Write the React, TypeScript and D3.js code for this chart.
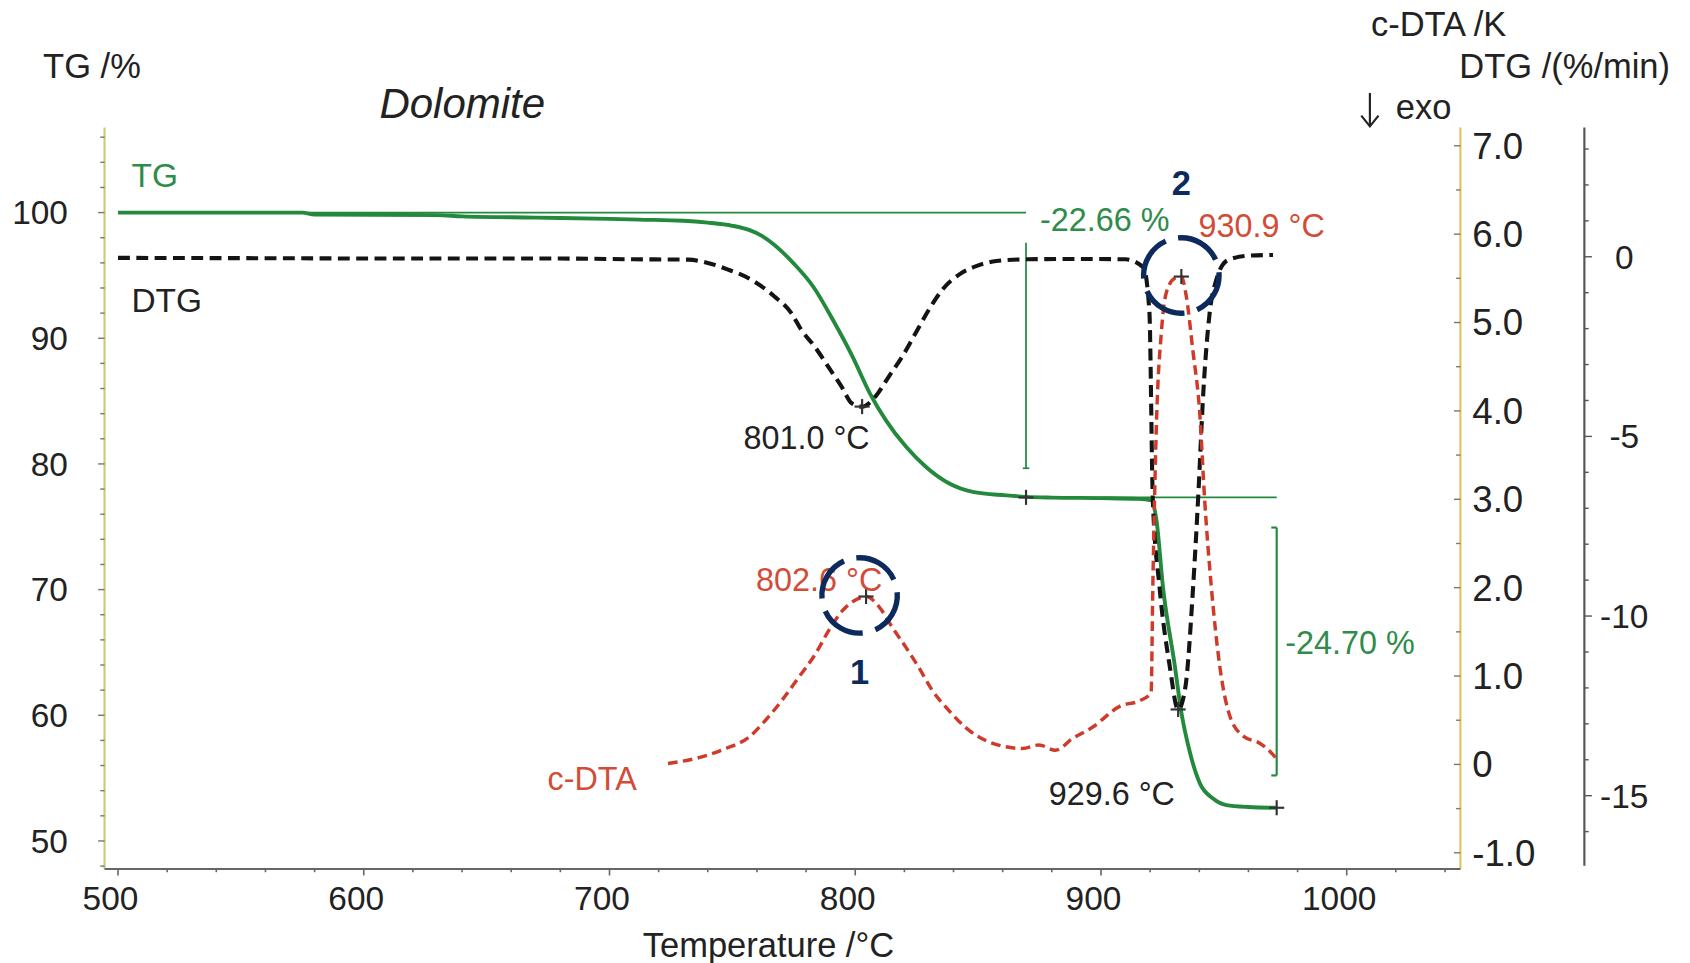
import React from 'react';
import * as d3 from 'd3';

// ---------- data ----------
const tgTemp = [500, 575, 580, 630, 640, 670, 700, 712, 730, 740, 750, 757, 762, 767, 775, 783, 791, 799, 806, 812.5, 820.7, 828.8, 838.3, 847.8, 861.4, 869.5, 880, 900, 915, 920.5, 922.6, 925.2, 930, 932.7, 936.1, 940.2, 945.6, 951, 960, 971.5];
const tgValue = [100, 100, 99.85, 99.8, 99.7, 99.6, 99.5, 99.44, 99.35, 99.2, 98.95, 98.6, 98.15, 97.45, 95.94, 94.08, 91.43, 88.5, 85.6, 83.47, 81.36, 79.76, 78.44, 77.77, 77.5, 77.38, 77.32, 77.28, 77.22, 77.1, 75.5, 70.25, 64.0, 60.24, 57.12, 54.6, 53.37, 52.85, 52.7, 52.64];

const dtgTemp = [500, 560, 620, 680, 710, 732, 740, 748, 757.5, 767, 774, 778, 783.5, 789, 794.5, 798.6, 802.8, 808.2, 813.6, 819.1, 824.6, 830, 835.5, 842.4, 849.2, 857.4, 870, 890, 910, 917.3, 919.7, 921.1, 923.8, 927.9, 931.4, 934.3, 937.5, 939.5, 941.7, 944.3, 946.9, 951.5, 960, 970];
const dtgValue = [-0.03, -0.04, -0.05, -0.05, -0.07, -0.08, -0.17, -0.35, -0.63, -1.1, -1.57, -2.03, -2.5, -3.06, -3.62, -4.08, -4.17, -3.89, -3.34, -2.78, -2.12, -1.47, -0.91, -0.49, -0.26, -0.12, -0.07, -0.06, -0.07, -0.3, -1.52, -6.77, -9.18, -11.36, -12.6, -12.0, -9.18, -6.77, -3.71, -1.52, -0.65, -0.1, 0.03, 0.05];

const dtaTemp = [723.8, 736.8, 747.3, 756.8, 763.5, 770.3, 777.1, 783.8, 789.3, 794.8, 800.1, 804.4, 809.8, 815.1, 820.5, 825.8, 831.3, 838.1, 844.8, 853.1, 861.2, 868, 874.8, 881.5, 888.3, 896.5, 907.8, 915.7, 920.4, 921.1, 922.5, 924.6, 926.6, 930, 932.7, 934.7, 937.4, 940.2, 942.2, 944.9, 948.3, 952.4, 957.9, 964.6, 968.7, 971.8];
const dtaValue = [0.01, 0.08, 0.18, 0.31, 0.5, 0.73, 0.99, 1.25, 1.52, 1.74, 1.86, 1.90, 1.78, 1.55, 1.33, 1.10, 0.84, 0.61, 0.42, 0.27, 0.20, 0.18, 0.22, 0.16, 0.29, 0.42, 0.66, 0.72, 0.81, 2.01, 3.79, 4.90, 5.34, 5.5, 5.52, 5.30, 4.68, 3.97, 2.99, 2.01, 1.12, 0.55, 0.32, 0.24, 0.15, 0.05];

// mass-loss steps
const stepTemps = [869.5, 971.5];
const stepLevels = [100, 77.34, 52.64];
const stepLabels = ['-22.66 %', '-24.70 %'];

// DTG minima / c-DTA peaks (positions as plotted, labels as printed)
const dtgPeakTemps = [802.8, 931.4];
const dtgPeakValues = [-4.17, -12.6];
const dtgPeakLabels = ['801.0 °C', '929.6 °C'];
const dtaPeakTemps = [804.4, 932.7];
const dtaPeakValues = [1.9, 5.52];
const dtaPeakLabels = ['802.6 °C', '930.9 °C'];
const circleNumbers = ['1', '2'];

// ticks
const xTicks = [500, 600, 700, 800, 900, 1000];
const tgTicks = [50, 60, 70, 80, 90, 100];
const dtaTicks = [-1, 0, 1, 2, 3, 4, 5, 6, 7];
const dtgTicks = [0, -5, -10, -15];

const FONT = '"Liberation Sans", Arial, Helvetica, sans-serif';
const GREEN = '#23893c';
const GREEN_TXT = '#2f8c4a';
const RED = '#cf3b2b';
const RED_TXT = '#d24c38';
const NAVY = '#0d2a5c';
const DARK = '#222';

export default function App() {
  const plotTop = 118, plotBottom = 806, plotLeft = 97, plotRight = 1355, dtgAxisX = 1470;
  const x = d3.scaleLinear().domain([500, 1000]).range([109.5, 1249.5]);
  const yTG = d3.scaleLinear().domain([50, 100]).range([780, 197]);
  const yDTA = d3.scaleLinear().domain([-1, 7]).range([791, 135]);
  const yDTG = d3.scaleLinear().domain([-15, 0]).range([738, 238]);

  const tgPath = d3.line().x((d: any) => x(d[0])).y((d: any) => yTG(d[1])).curve(d3.curveMonotoneX)(tgTemp.map((t, i) => [t, tgValue[i]]) as any) as string;
  const dtgPath = d3.line().x((d: any) => x(d[0])).y((d: any) => yDTG(d[1])).curve(d3.curveMonotoneX)(dtgTemp.map((t, i) => [t, dtgValue[i]]) as any) as string;
  const dtaPath = d3.line().x((d: any) => x(d[0])).y((d: any) => yDTA(d[1])).curve(d3.curveMonotoneX)(dtaTemp.map((t, i) => [t, dtaValue[i]]) as any) as string;

  const xMinor = d3.range(500, 1041, 20);
  const tgMinor = d3.range(48, 107, 2);
  const dtaMinor = d3.range(-1, 7.01, 0.5);
  const dtgMinor = d3.range(-16, 4, 1);

  const plus = (cx: number, cy: number, key: string, s = 7) => (
    <g key={key} stroke="#333" strokeWidth={2}>
      <line x1={cx - s} x2={cx + s} y1={cy} y2={cy} />
      <line x1={cx} x2={cx} y1={cy - s} y2={cy + s} />
    </g>
  );

  const r = 35;
  const C = 2 * Math.PI * r;
  const dash = `${(C * 70) / 360} ${(C * 20) / 360}`;

  const s1x = x(stepTemps[0]);
  const s2x = x(stepTemps[1]);

  return (
    <svg
      width={1690}
      height={963}
      viewBox="0 0 1568 893"
      style={{ position: 'absolute', left: 0, top: 0, background: '#fff' }}
      fontFamily={FONT}
    >
      <rect x={0} y={0} width={1568} height={893} fill="#fff" />

      {/* axes lines */}
      <line x1={plotLeft} x2={plotLeft} y1={plotTop} y2={plotBottom} stroke="#d2c873" strokeWidth={2} />
      <line x1={plotRight} x2={plotRight} y1={plotTop} y2={plotBottom} stroke="#e4c262" strokeWidth={2} />
      <line x1={dtgAxisX} x2={dtgAxisX} y1={plotTop} y2={plotBottom - 3} stroke="#555" strokeWidth={2} />
      <line x1={plotLeft} x2={plotRight} y1={plotBottom} y2={plotBottom} stroke="#666" strokeWidth={2} />

      {/* x ticks */}
      {xMinor.map((v) => (
        <line key={'xm' + v} x1={x(v)} x2={x(v)} y1={plotBottom - 1} y2={plotBottom + (v % 100 === 0 ? 6 : 3)} stroke="#666" strokeWidth={1.5} />
      ))}
      {xTicks.map((v) => (
        <text key={'xl' + v} x={x(v) - 7} y={844} textAnchor="middle" fontSize={31} fill={DARK}>{v}</text>
      ))}

      {/* TG ticks */}
      {tgMinor.map((v) => (
        <line key={'tm' + v} x1={plotLeft - (v % 10 === 0 ? 6 : 4)} x2={plotLeft} y1={yTG(v)} y2={yTG(v)} stroke="#777" strokeWidth={1.3} />
      ))}
      {tgTicks.map((v) => (
        <text key={'tl' + v} x={63} y={yTG(v) + 11} textAnchor="end" fontSize={31} fill={DARK}>{v}</text>
      ))}

      {/* DTA ticks */}
      {dtaMinor.map((v) => (
        <line key={'dm' + v} x1={plotRight - (Math.abs(v % 1) < 1e-6 ? 6 : 4)} x2={plotRight} y1={yDTA(v)} y2={yDTA(v)} stroke="#777" strokeWidth={1.3} />
      ))}
      {dtaTicks.map((v) => (
        <text key={'dl' + v} x={1366} y={yDTA(v) + 12} textAnchor="start" fontSize={34} fill={DARK}>{v === 0 ? '0' : v.toFixed(1)}</text>
      ))}

      {/* DTG ticks */}
      {dtgMinor.map((v) => (
        <line key={'gm' + v} x1={dtgAxisX} x2={dtgAxisX + (v % 5 === 0 ? 7 : 4)} y1={yDTG(v)} y2={yDTG(v)} stroke="#555" strokeWidth={1.3} />
      ))}
      {dtgTicks.map((v) => (
        <text key={'gl' + v} x={1507} y={yDTG(v) + 11} textAnchor="middle" fontSize={31} fill={DARK}>{v}</text>
      ))}

      {/* axis titles */}
      <text x={40} y={72} fontSize={32} fill={DARK}>TG /%</text>
      <text x={352} y={109} fontSize={39} fontStyle="italic" fill={DARK}>Dolomite</text>
      <text x={713} y={888} textAnchor="middle" fontSize={32} fill={DARK}>Temperature /°C</text>
      <text x={1272} y={33} fontSize={32} fill={DARK}>c-DTA /K</text>
      <text x={1354} y={72} fontSize={32} fill={DARK}>DTG /(%/min)</text>
      <g stroke={DARK} strokeWidth={2} fill="none">
        <line x1={1271} x2={1271} y1={86} y2={116} />
        <polyline points="1263,107 1271,117 1279,107" />
      </g>
      <text x={1295} y={110} fontSize={32} fill={DARK}>exo</text>

      {/* step reference lines */}
      <g stroke={GREEN} strokeWidth={1.6} fill="none">
        <line x1={x(500)} x2={s1x} y1={yTG(stepLevels[0])} y2={yTG(stepLevels[0])} />
        <line x1={s1x} x2={s1x} y1={yTG(stepLevels[0]) + 28} y2={yTG(stepLevels[1]) - 27} />
        <line x1={s1x - 3} x2={s1x + 3} y1={yTG(stepLevels[1]) - 27} y2={yTG(stepLevels[1]) - 27} />
        <line x1={s1x} x2={s2x} y1={yTG(stepLevels[1])} y2={yTG(stepLevels[1])} />
        <line x1={s2x} x2={s2x} y1={yTG(stepLevels[1]) + 28} y2={yTG(stepLevels[2]) - 30} strokeWidth={2} />
        <line x1={s2x - 5} x2={s2x} y1={yTG(stepLevels[1]) + 28} y2={yTG(stepLevels[1]) + 28} strokeWidth={2} />
        <line x1={s2x - 5} x2={s2x} y1={yTG(stepLevels[2]) - 30} y2={yTG(stepLevels[2]) - 30} strokeWidth={2} />
      </g>

      {/* curves */}
      <path d={tgPath} fill="none" stroke={GREEN} strokeWidth={3.6} strokeLinejoin="round" />
      <path d={dtgPath} fill="none" stroke="#141414" strokeWidth={3.8} strokeDasharray="11 6" />
      <path d={dtaPath} fill="none" stroke={RED} strokeWidth={3.2} strokeDasharray="9 5" />

      {/* markers */}
      {plus(s1x, yTG(stepLevels[1]), 'p1')}
      {plus(s2x, yTG(stepLevels[2]), 'p2')}
      {dtgPeakTemps.map((t, i) => plus(x(t), yDTG(dtgPeakValues[i]), 'pg' + i))}
      {dtaPeakTemps.map((t, i) => plus(x(t), yDTA(dtaPeakValues[i]), 'pd' + i))}

      {/* labels */}
      <text x={122} y={173} fontSize={31} fill={GREEN_TXT}>TG</text>
      <text x={122} y={289} fontSize={31} fill={DARK}>DTG</text>
      <text x={508} y={733} fontSize={30} fill={RED_TXT}>c-DTA</text>

      <text x={s1x + 13} y={yTG(stepLevels[0]) + 17} fontSize={30} fill={GREEN_TXT}>{stepLabels[0]}</text>
      <text x={s2x + 8} y={(yTG(stepLevels[1]) + yTG(stepLevels[2])) / 2 + 1} fontSize={30} fill={GREEN_TXT}>{stepLabels[1]}</text>

      <text x={x(dtgPeakTemps[0]) + 7} y={yDTG(dtgPeakValues[0]) + 39} textAnchor="end" fontSize={30} fill={DARK}>{dtgPeakLabels[0]}</text>
      <text x={x(dtgPeakTemps[1]) - 3} y={yDTG(dtgPeakValues[1]) + 89} textAnchor="end" fontSize={30} fill={DARK}>{dtgPeakLabels[1]}</text>
      <text x={x(dtaPeakTemps[0]) - 102} y={yDTA(dtaPeakValues[0]) - 5} fontSize={30} fill={RED_TXT}>{dtaPeakLabels[0]}</text>
      <text x={x(dtaPeakTemps[1]) + 16} y={yDTA(dtaPeakValues[1]) - 37} fontSize={30} fill={RED_TXT}>{dtaPeakLabels[1]}</text>

      {/* highlight circles */}
      {dtaPeakTemps.map((t, i) => {
        const cx = x(t) + (i === 1 ? 0 : -6);
        const cy = yDTA(dtaPeakValues[i]) - 1;
        return (
          <g key={'c' + i}>
            <circle cx={cx} cy={cy} r={r} fill="none" stroke={NAVY} strokeWidth={5} strokeDasharray={dash} transform={`rotate(-95 ${cx} ${cy})`} />
            <text x={cx} y={i === 0 ? cy + 82 : cy - 75} textAnchor="middle" fontSize={32} fontWeight="bold" fill={NAVY}>{circleNumbers[i]}</text>
          </g>
        );
      })}
    </svg>
  );
}
